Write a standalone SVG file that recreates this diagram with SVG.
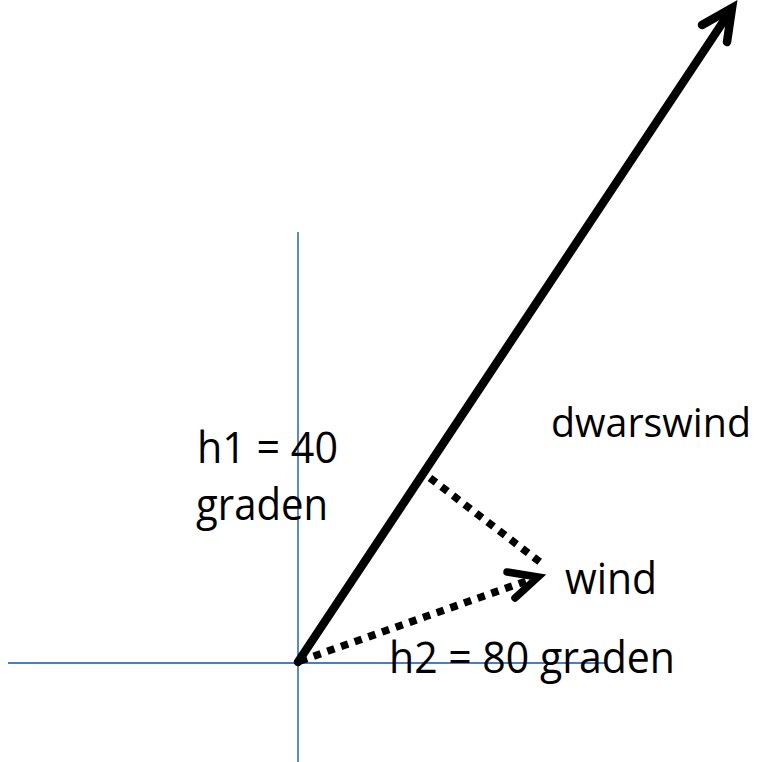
<svg xmlns="http://www.w3.org/2000/svg" width="762" height="762" viewBox="0 0 762 762">
<style>
.axis{stroke:#4a7ebf;stroke-width:1.8;fill:none}
.main{stroke:#000;stroke-width:8.5;fill:none;stroke-linecap:round}
.head{stroke:#000;stroke-width:8.5;fill:none;stroke-linecap:round;stroke-linejoin:miter}
.dot{stroke:#000;stroke-width:7.5;fill:none;stroke-dasharray:7.5 7}
.dhead{stroke:#000;stroke-width:7.5;fill:none;stroke-linecap:round;stroke-linejoin:miter}
text{font-family:"Open Sans","Noto Sans",sans-serif;font-size:43px;fill:#000}
.narrow{font-size:40px}
</style>
<rect width="762" height="762" fill="#fff"/>
<g id="axes">
<line class="axis" x1="298" y1="232" x2="298" y2="762"/>
<line class="axis" x1="8" y1="663" x2="607" y2="663"/>
</g>
<g id="connectors">
<line class="main" x1="298" y1="662" x2="729" y2="13"/>
<polyline class="head" points="702,25 732,8 727,42"/>
<line class="dot" x1="300" y1="661" x2="532" y2="579"/>
<polyline class="dhead" points="507,572 538,577 515,598"/>
<line class="dot" x1="430" y1="478" x2="540" y2="562"/>
</g>
<g id="labels">
<text x="197" y="463" textLength="141" lengthAdjust="spacingAndGlyphs">h1 = 40</text>
<text x="196" y="520" textLength="132" lengthAdjust="spacingAndGlyphs">graden</text>
<text class="narrow" x="551" y="437" textLength="200" lengthAdjust="spacingAndGlyphs">dwarswind</text>
<text x="565" y="594" textLength="92" lengthAdjust="spacingAndGlyphs">wind</text>
<text x="389" y="673" textLength="286" lengthAdjust="spacingAndGlyphs">h2 = 80 graden</text>
</g>
</svg>
